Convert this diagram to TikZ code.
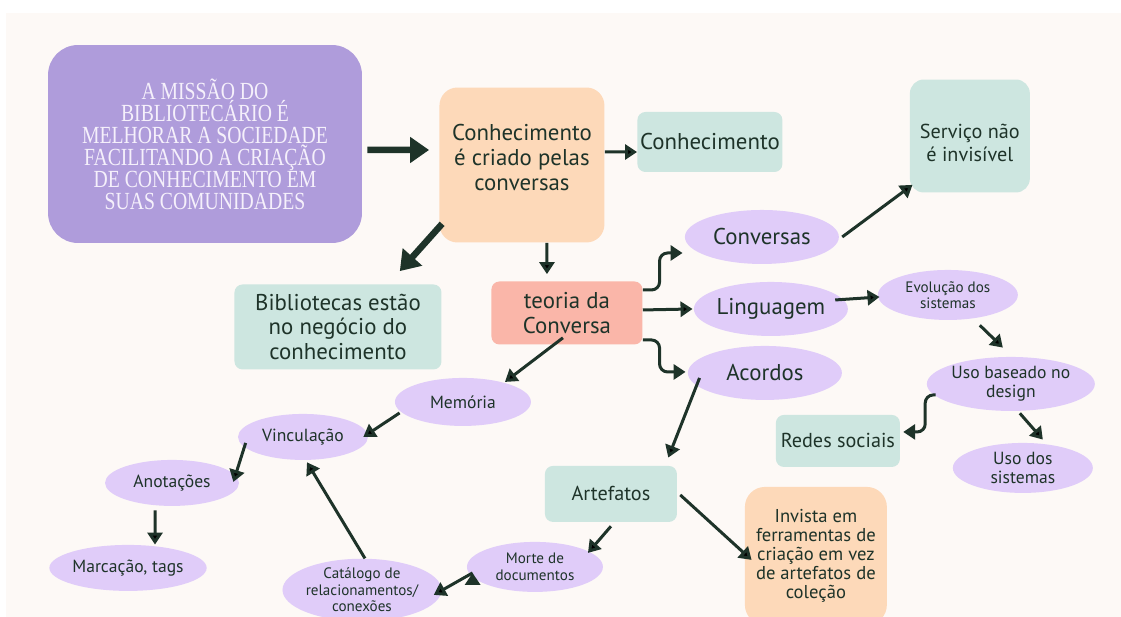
\documentclass[tikz,border=0pt]{standalone}
\usepackage{fontspec}
\usetikzlibrary{positioning,shapes.geometric,arrows.meta,calc}
\newfontfamily\handfont{PT Sans}
\newfontfamily\missionfont[FakeStretch=0.8]{Liberation Serif}
\definecolor{paper}{HTML}{FDF9F6}
\definecolor{ink}{HTML}{1E3329}
\definecolor{violet}{HTML}{AF9CDB}
\definecolor{peach}{HTML}{FDD9B9}
\definecolor{mint}{HTML}{CDE6E0}
\definecolor{salmon}{HTML}{FAB6A9}
\definecolor{lilac}{HTML}{E0CCF9}
\definecolor{chalk}{HTML}{F5F0FB}

\begin{document}
\begin{tikzpicture}[x=0.02cm,y=-0.02cm,node distance=3cm,on grid]
    \tikzset{
      box/.style={rectangle,rounded corners=0.16cm,inner sep=0pt,align=center,text=ink},
      mintbox/.style={box,fill=mint},
      bubble/.style={ellipse,fill=lilac,inner sep=0pt,align=center,text=ink},
      txtL/.style={font={\handfont\fontsize{13}{14.2}\selectfont}},
      txtM/.style={font={\handfont\fontsize{11.5}{13}\selectfont}},
      txtS/.style={font={\handfont\fontsize{10}{11}\selectfont}},
      txtXS/.style={font={\handfont\fontsize{8.6}{9.4}\selectfont}},
      link/.style={draw=ink,line width=0.06cm,-{Triangle[length=0.24cm,width=0.3cm]}},
      biglink/.style={draw=ink,line width=0.13cm,-{Triangle[length=0.38cm,width=0.5cm]}}
    }
    \useasboundingbox (0,0) rectangle (1121,617);
    \fill[paper] (6,13) rectangle (1121,617);
    % top row
    \node[box,fill=violet,rounded corners=0.6cm,minimum width=6.28cm,minimum height=3.96cm,
      text=chalk,font={\missionfont\fontsize{14}{12.5}\selectfont}] (mission) at (205,144)
      {A MISSÃO DO\\BIBLIOTECÁRIO É\\MELHORAR A SOCIEDADE\\FACILITANDO A CRIAÇÃO\\DE CONHECIMENTO EM\\SUAS COMUNIDADES};
    \node[box,fill=peach,rounded corners=0.36cm,minimum width=3.3cm,minimum height=3.1cm,txtL]
      (idea) [below right=0.42cm and 6.34cm of mission] {Conhecimento\\é criado pelas\\conversas\rule[-0.3cm]{0pt}{0pt}};
    \node[mintbox,minimum width=2.9cm,minimum height=1.2cm,txtL]
      (know) [above right=0.46cm and 3.76cm of idea] {Conhecimento};
    \node[mintbox,rounded corners=0.28cm,minimum width=2.4cm,minimum height=2.26cm,txtM]
      (service) [above right=0.12cm and 5.2cm of know] {\rule{0pt}{0.56cm}Serviço não\\é invisível};
    \node[mintbox,minimum width=4.14cm,minimum height=1.7cm,txtL]
      (libs) [below left=3.24cm and 3.68cm of idea] {Bibliotecas estão\\no negócio do\\conhecimento};
    \node[box,fill=salmon,minimum width=3.02cm,minimum height=1.26cm,txtL]
      (theory) [below right=2.96cm and 0.9cm of idea] {teoria da\\Conversa};
    % right branch
    \node[bubble,minimum width=3.08cm,minimum height=1.08cm,txtL]
      (lang) [above right=0.08cm and 4.08cm of theory] {Linguagem};
    \node[bubble,minimum width=3.08cm,minimum height=1.08cm,txtL]
      (conv) [above left=1.44cm and 0.18cm of lang] {Conversas};
    \node[bubble,minimum width=3.08cm,minimum height=1.08cm,txtL]
      (agree) [below left=1.28cm and 0.12cm of lang] {Acordos};
    \node[bubble,minimum width=2.8cm,minimum height=1cm,txtXS]
      (evol) [above right=0.28cm and 3.54cm of lang] {Evolução dos\\sistemas};
    \node[bubble,minimum width=3.08cm,minimum height=1.08cm,txtS]
      (design) [below right=1.78cm and 1.26cm of evol] {Uso baseado no\\design};
    \node[bubble,minimum width=2.8cm,minimum height=1cm,txtS]
      (usage) [below right=1.68cm and 0.24cm of design] {Uso dos\\sistemas};
    \node[mintbox,minimum width=2.48cm,minimum height=1.04cm,txtM]
      (social) [below left=1.14cm and 3.46cm of design] {Redes sociais};
    % left branch
    \node[bubble,minimum width=2.72cm,minimum height=0.96cm,txtS]
      (memory) [below left=1.78cm and 2.08cm of theory] {Memória};
    \node[bubble,minimum width=2.6cm,minimum height=0.92cm,txtS]
      (bond) [below left=0.7cm and 3.2cm of memory] {Vinculação};
    \node[bubble,minimum width=2.68cm,minimum height=0.92cm,txtS]
      (notes) [below left=0.92cm and 2.62cm of bond] {Anotações};
    \node[bubble,minimum width=2.64cm,minimum height=0.92cm,txtS]
      (tags) [below left=1.7cm and 0.88cm of notes] {Marcação, tags};
    % bottom branch
    \node[mintbox,minimum width=2.64cm,minimum height=1.12cm,txtM]
      (artifacts) [below left=2.42cm and 3.08cm of agree] {Artefatos};
    \node[bubble,minimum width=2.72cm,minimum height=1cm,txtXS]
      (death) [below left=1.46cm and 1.52cm of artifacts] {Morte de\\documentos};
    \node[bubble,minimum width=3.12cm,minimum height=1.2cm,txtXS]
      (catalog) [below left=0.46cm and 3.46cm of death] {Catálogo de\\relacionamentos/\\conexões};
    \node[box,fill=peach,rounded corners=0.4cm,minimum width=2.84cm,minimum height=2.76cm,
      font={\handfont\fontsize{10.6}{10.8}\selectfont}]
      (invest) [below right=1.24cm and 4.1cm of artifacts]
      {Invista em\\ferramentas de\\criação em vez\\de artefatos de\\coleção};
    % connectors
    \draw[biglink] ($(mission.east)+(5,6)$) -- ($(idea.west)+(-10,-15)$);
    \draw[biglink] ($(idea.south west)+(3,-19)$) -- ($(libs.north east)+(-42,-13)$);
    \path[link]
    ($(idea.east)+(0,-13)$) edge ($(know.west)+(0,10)$)
    ($(idea.south)+(25,0)$) edge ($(theory.north)+(-20,-7)$)
    ($(theory.east)+(0,-3)$) edge ($(lang.west)+(-1,0)$)
    ($(conv.east)+(3,0)$) edge ($(service.south west)+(3,-8)$)
    ($(lang.east)+(-13,-9)$) edge ($(evol.west)+(2,2)$)
    ($(evol.south)+(32,5)$) edge ($(design.north)+(-8,-9)$)
    ($(design.south)+(9,2)$) edge ($(usage.north)+(20,-3)$)
    ($(agree.west)+(12,5)$) edge ($(artifacts.north east)+(-9,-8)$)
    ($(artifacts.south)+(0,4)$) edge ($(death)+(53,-14)$)
    ($(artifacts.east)+(3,1)$) edge ($(invest.west)+(7,4)$)
    ($(theory.south)+(-4,-7)$) edge ($(memory)+(42,-20)$)
    ($(memory.west)+(5,11)$) edge ($(bond.east)+(-5,0)$)
    ($(bond.west)+(8,6)$) edge ($(notes.east)+(-6,-1)$)
    ($(notes.south)+(-17,4)$) edge ($(tags.north)+(27,0)$)
    ($(catalog.north)+(3,0)$) edge ($(bond.south)+(4,2)$)
    ($(death.west)+(6,6)$) edge ($(catalog.east)+(-8,5)$);
    \draw[link,rounded corners=0.16cm] ($(theory.east)+(0,-23)$) -| ($(conv.west)+(-25,16)$) -- ($(conv.west)+(-2,16)$);
    \draw[link,rounded corners=0.16cm] ($(theory.east)+(0,27)$) -| ($(agree.west)+(-28,-1)$) -- ($(agree.west)+(-2,-1)$);
    \draw[link,rounded corners=0.16cm] ($(design.west)+(9,11)$) -| ($(social.east)+(25,-9)$) -- ($(social.east)+(3,-9)$);
\end{tikzpicture}
\end{document}
